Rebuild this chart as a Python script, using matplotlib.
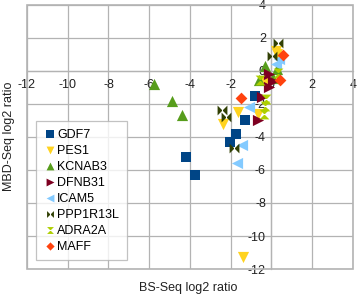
import numpy as np
import matplotlib
matplotlib.use("Agg")
import matplotlib.pyplot as plt
from matplotlib.path import Path
from matplotlib.patches import Rectangle

plt.rcParams['font.family'] = ['Liberation Sans', 'DejaVu Sans']

# data (BS-Seq log2 ratio, MBD-Seq log2 ratio)
genes = ['GDF7', 'PES1', 'KCNAB3', 'DFNB31', 'ICAM5', 'PPP1R13L', 'ADRA2A', 'MAFF']

gdf7_x = [-0.79, -1.31, -1.72, -2.05, -4.19, -3.74]
gdf7_y = [-1.50, -2.97, -3.82, -4.28, -5.19, -6.30]

pes1_x = [0.23, -0.30, -1.66, -2.40, -0.66, -1.41, 0.25]
pes1_y = [1.23, -0.65, -2.48, -3.21, -2.60, -11.25, 1.05]

kcnab3_x = [-5.76, -4.86, -4.40, -0.34, 0.25, 0.08, -0.60]
kcnab3_y = [-0.81, -1.82, -2.67, 0.32, 0.10, -0.44, -0.55]

dfnb31_x = [-0.13, -0.13, -0.46, -0.67, 0.05]
dfnb31_y = [-0.18, -0.99, -1.56, -2.97, -0.60]

icam5_x = [0.20, -1.08, -1.44, -1.69, 0.35]
icam5_y = [0.40, -2.16, -4.48, -5.60, 0.70]

ppp1r13l_x = [0.33, 0.03, -2.43, -2.22, -1.86]
ppp1r13l_y = [1.68, 0.91, -2.36, -2.80, -4.69]

adra2a_x = [-0.57, -0.25, -0.34, -0.38, 0.30]
adra2a_y = [-0.55, -1.70, -2.12, -2.60, -0.10]

maff_x = [0.58, 0.41, -1.48]
maff_y = [0.97, -0.55, -1.62]

x_ticks = [-12, -10, -8, -6, -4, -2, 0, 2, 4]
y_ticks = [-12, -10, -8, -6, -4, -2, 0, 2, 4]

# custom LibreOffice-like symbols
bowtie = Path([(-1, -1), (-1, 1), (0, 0), (-1, -1),
               (1, -1), (1, 1), (0, 0), (1, -1)],
              [Path.MOVETO, Path.LINETO, Path.LINETO, Path.CLOSEPOLY,
               Path.MOVETO, Path.LINETO, Path.LINETO, Path.CLOSEPOLY])
sandglass = Path([(-1, 1), (1, 1), (0, 0), (-1, 1),
                  (-1, -1), (1, -1), (0, 0), (-1, -1)],
                 [Path.MOVETO, Path.LINETO, Path.LINETO, Path.CLOSEPOLY,
                  Path.MOVETO, Path.LINETO, Path.LINETO, Path.CLOSEPOLY])

series = [
    (gdf7_x, gdf7_y, 's', '#004586', 55),
    (pes1_x, pes1_y, 'v', '#ffd320', 65),
    (kcnab3_x, kcnab3_y, '^', '#579d1c', 65),
    (dfnb31_x, dfnb31_y, '>', '#7e0021', 65),
    (icam5_x, icam5_y, '<', '#83caff', 65),
    (ppp1r13l_x, ppp1r13l_y, bowtie, '#314004', 50),
    (adra2a_x, adra2a_y, sandglass, '#aecf00', 50),
    (maff_x, maff_y, 'D', '#ff420e', 36),
]

fig = plt.figure(figsize=(3.58, 2.96), dpi=100)
ax = fig.add_axes([0.0754, 0.0912, 0.9106, 0.892])

grid_col = '#b3b3b3'
for (xs, ys, m, c, s), name in zip(series, genes):
    ax.scatter(xs, ys, marker=m, color=c, s=s, linewidths=0, label=name, zorder=3)

ax.set_xlim(-12, 4)
ax.set_ylim(-12, 4)
ax.set_xticks(x_ticks)
ax.set_yticks(y_ticks)
ax.grid(True, color=grid_col, linewidth=0.9)
ax.set_axisbelow(True)

ax.spines['left'].set_position(('data', 0))
ax.spines['bottom'].set_position(('data', 0))
for sp in ['left', 'bottom']:
    ax.spines[sp].set_color(grid_col)
    ax.spines[sp].set_linewidth(0.9)
for sp in ['top', 'right']:
    ax.spines[sp].set_visible(False)
ax.add_patch(Rectangle((0, 0), 1, 1, transform=ax.transAxes, fill=False,
                       ec=grid_col, lw=1.2, clip_on=False, zorder=1))

ax.tick_params(length=0, labelsize=9, colors='#222222', pad=6)
ax.tick_params(axis='y', pad=4)
ax.set_xticklabels([str(t) for t in x_ticks])
ax.set_yticklabels([str(t) for t in y_ticks])

leg = ax.legend(loc='lower left', bbox_to_anchor=(0.0276, 0.034), borderaxespad=0,
                fontsize=9, frameon=True, fancybox=False, edgecolor=grid_col,
                handletextpad=0.1, handlelength=1.0, labelspacing=0.32,
                borderpad=0.6, scatterpoints=1, markerscale=0.7)
leg.get_frame().set_linewidth(0.9)

fig.text(0.525, 0.027, 'BS-Seq log2 ratio', ha='center', va='center', fontsize=9, color='#222222')
fig.text(0.024, 0.54, 'MBD-Seq log2 ratio', ha='center', va='center', rotation=90,
         fontsize=9, color='#222222')

fig.savefig('out.png', dpi=100)
